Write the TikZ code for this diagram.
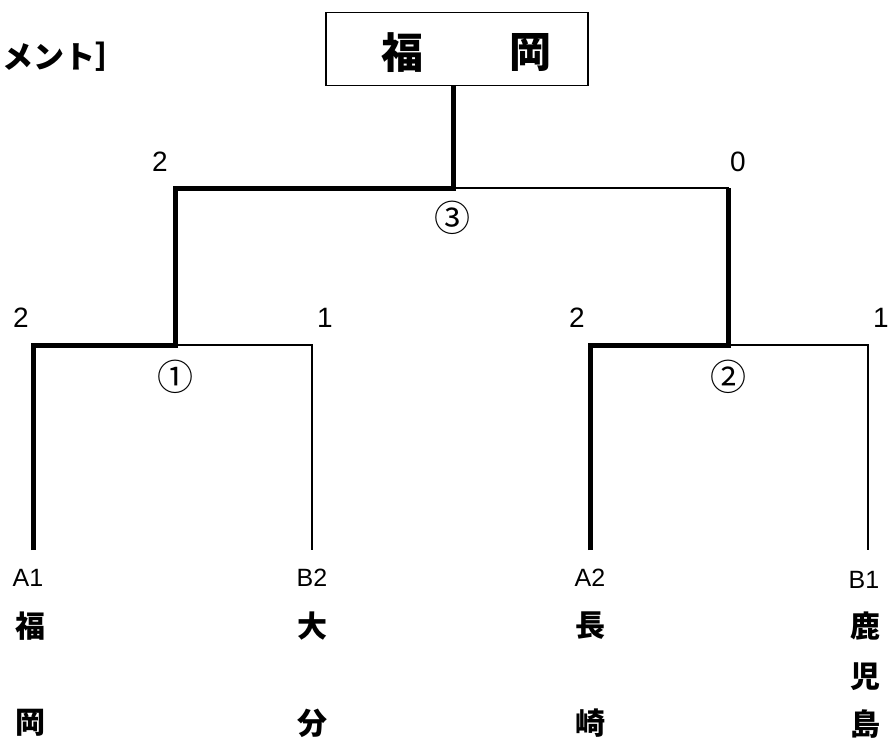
\documentclass[tikz,border=0pt]{standalone}
\usepackage{fontspec}
\setmainfont{Liberation Sans}
\newfontfamily\jp{Noto Sans CJK JP}
\begin{document}
\begin{tikzpicture}[x=1pt,y=-1pt,
  thickline/.style={line width=5pt,line join=miter},
  thinline/.style={line width=1.5pt},
  score/.style={font=\fontsize{28}{28}\selectfont,inner sep=0pt},
  seed/.style={font=\fontsize{25}{25}\selectfont,inner sep=0pt},
  team/.style={font=\jp\bfseries\fontsize{30}{30}\selectfont,inner sep=0pt},
  circ/.style={font=\jp\fontsize{36}{36}\selectfont,inner sep=0pt}]
\useasboundingbox (0,0) rectangle (890,738);
% title fragment
\node[anchor=west,inner sep=0pt,font=\jp\bfseries\fontsize{31}{31}\selectfont] (title) at (2,57) {メント］};
% champion box
\node[draw,line width=1.5pt,minimum width=262pt,minimum height=73pt,inner sep=0pt] (champ) at (457,49) {};
\node[team,font=\jp\bfseries\fontsize{42}{42}\selectfont] (c1) at (402,53) {福};
\node[team,font=\jp\bfseries\fontsize{42}{42}\selectfont] (c2) at (530,53) {岡};
% junctions and leaves
\coordinate (j3) at (453,188);
\coordinate (j1) at (175,345);
\coordinate (j2) at (728,345);
\coordinate (t1) at (33,550);
\coordinate (t2) at (312,550);
\coordinate (t3) at (590,550);
\coordinate (t4) at (868,550);
% thin lines
\draw[thinline] (j1) -| (t2);
\draw[thinline] (j2) -| (t4);
\draw[thinline] (j3) -| (j2);
% thick lines (winners)
\draw[thickline] (t1) |- (j1) |- (j3) -- (champ.south -| j3);
\draw[thickline] (t3) |- (j2) -- (j2 |- j3);
% scores
\node[score] (s1) at (21,318) {2};
\node[score] (s2) at (325,318) {1};
\node[score] (s3) at (577,318) {2};
\node[score] (s4) at (881,318) {1};
\node[score] (s5) at (160,162) {2};
\node[score] (s6) at (738,162) {0};
% match numbers
\node[circ] (m1) at (175,377) {①};
\node[circ] (m2) at (728,377) {②};
\node[circ] (m3) at (452,218) {③};
% seeds
\node[seed] (a1) at (28,578) {A1};
\node[seed] (b2) at (312,578) {B2};
\node[seed] (a2) at (590,578) {A2};
\node[seed] (b1) at (864,580) {B1};
% team names
\node[team] (n1a) at (30,626) {福};
\node[team] (n1b) at (30,723) {岡};
\node[team] (n2a) at (312,626) {大};
\node[team] (n2b) at (312,723) {分};
\node[team] (n3a) at (590,626) {長};
\node[team] (n3b) at (590,723) {崎};
\node[team] (n4a) at (865,626) {鹿};
\node[team] (n4b) at (865,677) {児};
\node[team] (n4c) at (865,724) {島};
\end{tikzpicture}
\end{document}
